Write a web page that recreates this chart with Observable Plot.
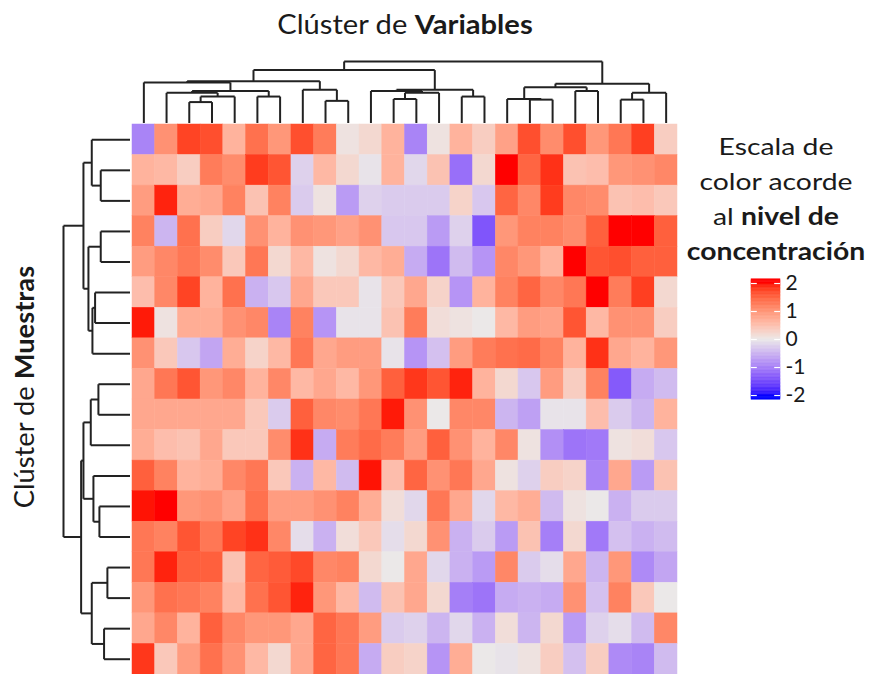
<!DOCTYPE html>
<html>
<head>
<meta charset="utf-8">
<script src="https://cdn.jsdelivr.net/npm/d3@7"></script>
<script src="https://cdn.jsdelivr.net/npm/@observablehq/plot@0.6"></script>
<style>
  body { margin: 0; background: #fff; }
  #root { position: relative; width: 869px; height: 674px; overflow: hidden; font-family: Lato, "Open Sans", sans-serif; color: #1a1a1a; }
  .abs { position: absolute; }
  .abs svg { display: block; overflow: visible; }
  #title { left: 205px; width: 400px; top: 9px; text-align: center; font-size: 26px; line-height: 30px; transform: scaleX(1.12); }
  #ylabel { left: -126px; width: 300px; top: 372px; text-align: center; font-size: 26px; line-height: 30px; transform: rotate(-90deg) scaleX(1.05); }
  #legtitle { left: 676px; width: 200px; top: 128px; text-align: center; font-size: 24px; line-height: 35px; transform: scaleX(1.18); }
</style>
</head>
<body>
<div id="root">
  <div id="title" class="abs">Clúster de <b>Variables</b></div>
  <div id="ylabel" class="abs">Clúster de <b>Muestras</b></div>
  <div id="legtitle" class="abs">Escala de<br>color acorde<br>al <b>nivel de</b><br><b>concentración</b></div>
</div>
<script>
// ---- Data: values per sample row (rows in dendrogram order), 24 variables each
const fila01 = [-0.95, 1.03, 1.75, 1.67, 0.65, 1.37, 0.97, 1.67, 1.26, 0.07, 0.2, 0.65, -0.95, 0.07, 0.65, 0.33, 0.85, 1.67, 1.09, 1.67, 0.97, 1.31, 1.78, 0.33];
const fila02 = [0.65, 0.59, 0.33, 1.26, 1.09, 1.8, 1.62, -0.21, 0.59, 0.2, -0.05, 0.65, -0.16, 0.46, -1.15, 0.2, 2.0, 1.48, 1.86, 0.46, 0.52, 0.97, 1.03, 1.14];
const fila03 = [0.91, 1.92, 0.72, 0.78, 1.2, 0.46, 1.2, -0.27, 0.07, -0.73, -0.21, -0.27, -0.27, -0.27, 0.26, -0.31, 1.48, 1.14, 1.8, 1.14, 1.09, 0.46, 0.52, 0.39];
const fila04 = [1.2, -0.48, 1.37, 0.33, -0.16, 1.03, 0.65, 1.03, 0.97, 0.85, 1.03, -0.31, -0.31, -0.73, -0.21, -1.4, 0.97, 1.2, 1.2, 1.09, 1.53, 2.0, 2.0, 1.53];
const fila05 = [0.91, 1.14, 1.31, 1.09, 0.39, 1.31, 0.2, 0.59, 0.07, 0.2, 0.59, 0.72, -0.57, -1.1, -0.42, -0.79, 1.14, 0.97, 0.65, 2.0, 1.62, 1.67, 1.53, 1.53];
const fila06 = [0.52, 1.14, 1.75, 0.65, 1.37, -0.52, -0.31, 0.78, 0.39, 0.39, -0.05, 0.39, 0.78, 0.26, -0.79, 0.65, 1.2, 1.48, 1.14, 1.31, 2.0, 1.26, 1.78, 0.2];
const fila07 = [1.95, 0.07, 0.72, 0.72, 1.03, 1.14, -0.95, 1.2, -0.79, -0.05, -0.05, 0.46, 1.26, 0.13, 0.07, 0.0, 0.59, 0.91, 0.85, 1.62, 0.59, 1.03, 1.03, 0.33];
const fila08 = [1.03, 0.39, -0.31, -0.63, 0.72, 0.26, 0.59, 1.31, 0.78, 0.91, 0.91, -0.05, -0.79, -0.37, 0.91, 1.26, 1.37, 1.43, 1.2, 0.65, 1.86, 0.78, 0.65, 0.97];
const fila09 = [0.78, 1.31, 1.62, 0.97, 1.14, 0.65, 1.14, 0.59, 0.78, 0.59, 0.97, 1.53, 1.83, 1.62, 1.92, 0.65, 0.2, -0.31, 0.91, 0.33, 1.2, -1.35, -0.57, -0.42];
const fila10 = [0.78, 0.78, 0.78, 0.78, 0.78, 0.39, -0.27, 1.53, 1.14, 1.09, 1.31, 1.95, 1.03, 0.0, 1.14, 1.14, -0.48, -0.68, -0.05, -0.05, 0.52, -0.27, -0.48, 0.65];
const fila11 = [0.72, 0.52, 0.46, 0.78, 0.39, 0.39, 1.09, 1.86, -0.57, 1.26, 1.43, 1.26, 0.91, 1.53, 1.03, 0.65, 1.14, 0.07, -0.84, -1.1, -1.05, 0.07, 0.13, -0.31];
const fila12 = [1.53, 1.2, 0.65, 0.72, 1.14, 1.31, 0.39, -0.52, 0.59, -0.42, 1.97, 0.52, 1.48, 1.03, 1.31, 0.78, 0.07, -0.21, 0.33, 0.26, -0.95, 0.78, -0.73, 0.46];
const fila13 = [1.97, 2.0, 0.97, 1.03, 0.85, 1.37, 0.91, 0.91, 1.03, 1.2, 0.72, 0.13, -0.16, 1.31, 0.78, -0.16, 0.59, 0.72, -0.42, 0.07, 0.0, -0.52, -0.27, -0.27];
const fila14 = [1.31, 1.2, 1.62, 1.31, 1.75, 1.86, 1.14, -0.1, -0.52, 0.13, 0.39, -0.1, 0.2, 1.03, -0.52, -0.27, -0.73, 0.46, -1.0, 0.2, -1.05, -0.37, -0.52, -0.42];
const fila15 = [1.31, 1.92, 1.53, 1.53, 0.46, 1.48, 1.57, 1.71, 1.14, 1.2, 0.2, 0.0, 0.78, -0.16, -0.52, -0.73, 1.14, -0.27, -0.1, 0.78, -0.48, 0.97, -0.89, -0.63];
const fila16 = [0.97, 1.37, 1.31, 1.2, 0.59, 1.37, 1.62, 1.92, 0.97, 0.59, -0.42, 0.46, 0.78, 0.2, -1.0, -1.1, -0.57, -0.52, -0.57, 1.03, -0.37, 1.2, 0.39, 0.0];
const fila17 = [0.78, 1.14, 0.65, 1.53, 1.14, 0.97, 0.97, 0.78, 1.48, 1.31, 0.91, -0.27, -0.21, -0.48, -0.16, -0.52, 0.13, -0.48, 0.2, -0.73, -0.21, -0.1, -0.42, 1.14];
const fila18 = [1.83, 0.39, 0.91, 1.37, 1.03, 0.59, 0.2, 0.78, 1.48, 1.31, -0.57, 0.33, 0.26, -0.79, 0.72, 0.0, -0.05, 0.07, 0.33, -0.37, 0.33, -0.89, -0.95, -0.42];

// ---- Dendrogram linkages [childA, childB, height]; leaves 0..n-1, new clusters numbered n, n+1, ...
const unionesVariables = [
  [2, 3, 3.4], [24, 4, 4.3], [1, 25, 4.9], [5, 6, 4.3], [26, 27, 5.2], [0, 28, 6.6],
  [8, 9, 3.6], [7, 30, 5.4], [29, 31, 6.8],
  [11, 12, 3.9], [33, 13, 4.9], [10, 34, 5.2], [14, 15, 4.3], [35, 36, 5.4], [32, 37, 8.6],
  [17, 18, 3.8], [16, 39, 3.9], [19, 20, 5.2], [40, 41, 5.8], [21, 22, 3.8], [43, 23, 4.9], [42, 44, 6.4],
  [38, 45, 10]
];
const unionesMuestras = [
  [1, 2, 4.4], [0, 18, 5.75], [3, 4, 4.4], [5, 6, 5.25], [21, 7, 5.65], [20, 22, 6.25], [19, 23, 7.0],
  [8, 9, 4.75], [25, 10, 5.9], [12, 13, 4.6], [11, 27, 5.5], [26, 28, 7.0],
  [14, 15, 3.4], [16, 17, 3.9], [30, 31, 5.75], [29, 32, 7.35],
  [24, 33, 10]
];

// ---- Color scale ticks
const ticksEscala = [2, 1, 0, -1, -2];
const dominioColor = [-2, 0, 2];
const coloresEscala = ["#0000ff", "#ebe8e8", "#ff0000"];

// ---------------------------------------------------------------
const filas = [fila01, fila02, fila03, fila04, fila05, fila06, fila07, fila08, fila09,
               fila10, fila11, fila12, fila13, fila14, fila15, fila16, fila17, fila18];
const nCols = fila01.length, nRows = filas.length;
const celdas = filas.flatMap((f, i) => f.map((v, j) => ({fila: i, col: j, valor: v})));

const colorOpts = {type: "linear", domain: dominioColor, range: coloresEscala, interpolate: "lab", clamp: true};

function segmentos(uniones, n) {
  const pos = d3.range(n).map(i => i + 0.5);
  const alt = new Array(n).fill(0);
  const segs = [];
  for (const [a, b, h] of uniones) {
    segs.push({p1: pos[a], h1: alt[a], p2: pos[a], h2: h});
    segs.push({p1: pos[b], h1: alt[b], p2: pos[b], h2: h});
    segs.push({p1: pos[a], h1: h, p2: pos[b], h2: h});
    pos.push((pos[a] + pos[b]) / 2);
    alt.push(h);
  }
  return segs;
}

const root = document.getElementById("root");
function place(node, left, top) {
  const d = document.createElement("div");
  d.className = "abs";
  d.style.left = left + "px";
  d.style.top = top + "px";
  d.appendChild(node);
  root.appendChild(d);
}

// Heatmap
const heat = Plot.plot({
  width: 545, height: 550, margin: 0,
  x: {type: "band", domain: d3.range(nCols), padding: 0, round: false, axis: null},
  y: {type: "band", domain: d3.range(nRows), padding: 0, round: false, axis: null},
  color: colorOpts,
  marks: [
    Plot.cell(celdas, {x: "col", y: "fila", fill: "valor", stroke: "valor", strokeWidth: 0.5})
  ]
});
place(heat, 132, 124);

// Top dendrogram (variables)
const topDen = Plot.plot({
  width: 545, height: 64, marginLeft: 0, marginRight: 0, marginTop: 2, marginBottom: 0.5,
  x: {domain: [0, nCols], axis: null},
  y: {domain: [0, 10], axis: null},
  marks: [
    Plot.link(segmentos(unionesVariables, nCols), {x1: "p1", y1: "h1", x2: "p2", y2: "h2", stroke: "#222", strokeWidth: 2})
  ]
});
place(topDen, 132, 59);

// Left dendrogram (muestras)
const leftDen = Plot.plot({
  width: 69, height: 550, marginLeft: 1, marginRight: 1.5, marginTop: 0, marginBottom: 0,
  x: {domain: [10, 0], axis: null},
  y: {domain: [0, nRows], reverse: true, axis: null},
  marks: [
    Plot.link(segmentos(unionesMuestras, nRows), {y1: "p1", x1: "h1", y2: "p2", x2: "h2", stroke: "#222", strokeWidth: 2})
  ]
});
place(leftDen, 62, 124);

// Vertical colour legend
const franjas = d3.range(-2.15, 2.15, 0.05).map(v => ({y1: v, y2: v + 0.05, v: v + 0.025}));
const leyenda = Plot.plot({
  width: 100, height: 140, marginLeft: 11, marginRight: 60, marginTop: 13, marginBottom: 15,
  x: {domain: [0, 1], axis: null},
  y: {domain: [-2, 2], axis: null},
  color: colorOpts,
  style: {fontFamily: "Lato, sans-serif", color: "#1a1a1a"},
  marks: [
    Plot.rect(franjas, {x1: 0, x2: 1, y1: "y1", y2: "y2", fill: "v", stroke: "v", strokeWidth: 0.5}),
    Plot.ruleY(ticksEscala, {x1: 0, x2: 0.2, stroke: "white", strokeWidth: 1.2}),
    Plot.ruleY(ticksEscala, {x1: 0.8, x2: 1, stroke: "white", strokeWidth: 1.2}),
    Plot.axisY(ticksEscala, {anchor: "right", tickSize: 0, tickPadding: 5, fontSize: 21, tickFormat: d => String(d)})
  ]
});
place(leyenda, 740, 270);
</script>
</body>
</html>
